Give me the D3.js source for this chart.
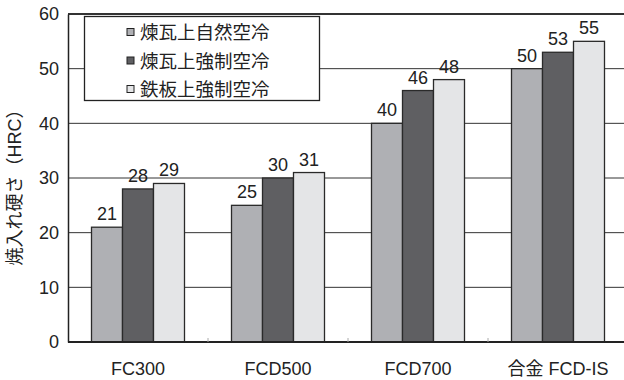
<!DOCTYPE html>
<html><head><meta charset="utf-8">
<script src="https://cdn.jsdelivr.net/npm/d3@7"></script>
<style>body{margin:0;background:#fff}svg{display:block}text{font-family:"Liberation Sans","Noto Sans CJK JP",sans-serif}</style>
</head><body><svg id="c" width="624" height="380"></svg>
<script>
const categories = ["FC300", "FCD500", "FCD700", "合金 FCD-IS"];
const seriesNames = ["煉瓦上自然空冷", "煉瓦上強制空冷", "鉄板上強制空冷"];
const series1 = [21, 25, 40, 50];
const series2 = [28, 30, 46, 53];
const series3 = [29, 31, 48, 55];
const yTicks = [0, 10, 20, 30, 40, 50, 60];
const colors = ["#afb0b4", "#5f5f62", "#e4e5e7"];
const allSeries = [series1, series2, series3];

const svg = d3.select("#c");
const m = {l: 68, t: 14, r: 628, b: 342};
const x = d3.scaleBand().domain(categories).range([m.l, m.r]);
const xi = d3.scaleBand().domain(d3.range(3)).range([0, 93]);
const y = d3.scaleLinear().domain([0, 60]).range([m.b, m.t]);

// gridlines
svg.append("g").selectAll("line").data(yTicks.filter(t => t > 0 && t < 60)).join("line")
  .attr("x1", m.l).attr("x2", m.r).attr("y1", d => y(d)).attr("y2", d => y(d))
  .attr("stroke", "#333").attr("stroke-width", 1);

// bars
categories.forEach((c, ci) => {
  allSeries.forEach((s, si) => {
    const x0 = x(c) + (x.bandwidth() - 93) / 2 + xi(si);
    svg.append("rect").attr("x", x0).attr("y", y(s[ci]))
      .attr("width", xi.bandwidth()).attr("height", y(0) - y(s[ci]))
      .attr("fill", colors[si]).attr("stroke", "#2a2a2a").attr("stroke-width", 1.3);
    svg.append("text").attr("x", x0 + xi.bandwidth() / 2).attr("y", y(s[ci]) - 7)
      .attr("text-anchor", "middle").attr("font-size", 18).attr("fill", "#222").text(s[ci]);
  });
});

// top border
svg.append("line").attr("x1", m.l).attr("x2", m.r).attr("y1", y(60)).attr("y2", y(60))
  .attr("stroke", "#333").attr("stroke-width", 2);

// y axis
const ya = svg.append("g").attr("transform", `translate(${m.l},0)`)
  .call(d3.axisLeft(y).tickValues(yTicks).tickSize(0).tickPadding(9));
ya.select(".domain").attr("stroke", "#222").attr("stroke-width", 1.5);
ya.selectAll("text").attr("font-size", 18).attr("fill", "#222")
  .attr("font-family", "Liberation Sans, sans-serif");

// x axis
const xa = svg.append("g").attr("transform", `translate(0,${m.b})`)
  .call(d3.axisBottom(x).tickSize(0).tickPadding(20));
xa.select(".domain").attr("stroke", "#222").attr("stroke-width", 2).attr("d", `M${m.l},0H${m.r}`);
xa.selectAll("text").attr("font-size", 18).attr("fill", "#222");
// small divider ticks
svg.append("g").selectAll("line").data(categories.slice(1)).join("line")
  .attr("x1", d => x(d)).attr("x2", d => x(d)).attr("y1", m.b).attr("y2", m.b - 4)
  .attr("stroke", "#aaa").attr("stroke-width", 1);

// y label
svg.append("text").attr("transform", "translate(21,183) rotate(-90)")
  .attr("text-anchor", "middle").attr("font-size", 18).attr("fill", "#222")
  .text("焼入れ硬さ（HRC）");

// legend
const lg = svg.append("g");
lg.append("rect").attr("x", 84.5).attr("y", 16.5).attr("width", 235).attr("height", 84)
  .attr("fill", "#fff").attr("stroke", "#222").attr("stroke-width", 1.3);
seriesNames.forEach((n, i) => {
  const yy = 32 + i * 28.5;
  lg.append("rect").attr("x", 127).attr("y", yy - 3.5).attr("width", 7).attr("height", 7)
    .attr("fill", colors[i]).attr("stroke", "#222").attr("stroke-width", 1);
  lg.append("text").attr("x", 140).attr("y", yy + 7).attr("font-size", 18.5).attr("fill", "#222").text(n);
});
</script></body></html>
